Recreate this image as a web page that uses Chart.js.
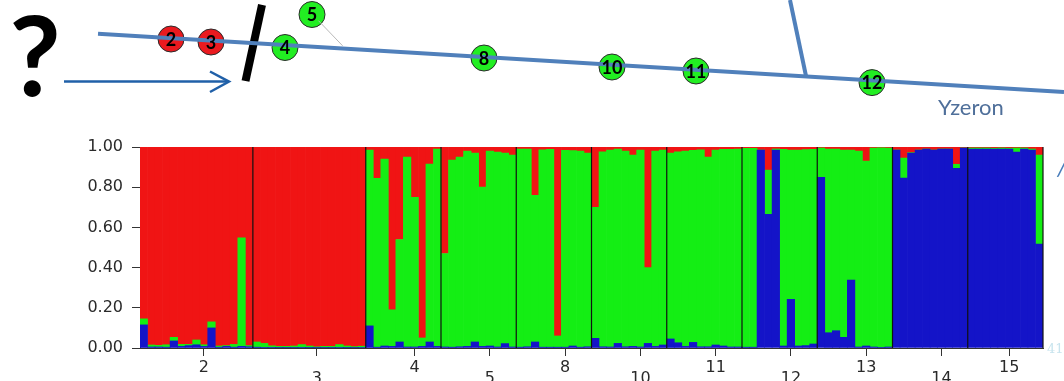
<!DOCTYPE html>
<html>
<head>
<meta charset="utf-8">
<script src="https://cdn.jsdelivr.net/npm/chart.js@4.4.1/dist/chart.umd.min.js"></script>
<style>
  html, body { margin: 0; padding: 0; background: #fff; }
  #wrap { position: relative; width: 1064px; height: 381px; overflow: hidden; }
  #wrap canvas { position: absolute; left: 0; top: 0; }
</style>
</head>
<body>
<div id="wrap">
  <canvas id="bars" width="1064" height="381"></canvas>
  <canvas id="map" width="1064" height="381"></canvas>
</div>
<script>
// populations (bar chart groups), individuals per pop, tick position inside each pop
const popLabels = ['2', '3', '4', '5', '8', '10', '11', '12', '13', '14', '15'];
const popSizes  = [15, 15, 10, 10, 10, 10, 10, 10, 10, 10, 10];
const popTickAt = [8, 8, 6, 6, 6, 6, 6, 6, 6, 6, 5];
const yTicks = [0, 0.2, 0.4, 0.6, 0.8, 1.0];

// membership per individual (cluster blue / green / red)
const blueQ = [
  .115, .005, .005, .004, .035, .008, .012, .016, .008, .10, .004, .008, .004, .008, .006,   // 2
  .004, .003, .003, .002, .002, .002, .003, .002, .002, .002, .002, .003, .002, .002, .003,  // 3
  .11, .004, .01, .008, .03, .005, .005, .008, .03, .008,    // 4
  .005, .004, .006, .008, .03, .008, .01, .005, .022, .005,  // 5
  .004, .006, .03, .004, .004, .004, .004, .01, .004, .006,  // 8
  .048, .006, .005, .023, .006, .008, .005, .023, .008, .015,// 10
  .045, .026, .008, .028, .006, .006, .015, .01, .005, .005, // 11
  .004, .004, .985, .665, .985, .01, .242, .01, .012, .02,   // 12
  .849, .076, .086, .053, .338, .005, .01, .005, .003, .005, // 13
  .985, .845, .97, .985, .99, .985, .99, .99, .894, .995,    // 14
  .99, .99, .99, .99, .99, .99, .975, .99, .985, .517        // 15
];
const greenQ = [
  .03, .01, .008, .012, .018, .01, .006, .024, .008, .03, .006, .004, .014, .54, .006,
  .026, .02, .008, .006, .006, .008, .014, .008, .004, .006, .006, .014, .008, .005, .006,
  .875, .84, .93, .182, .51, .945, .745, .042, .885, .982,
  .465, .931, .944, .972, .94, .792, .97, .97, .948, .955,
  .986, .984, .73, .982, .984, .056, .98, .972, .976, .964,
  .652, .97, .98, .967, .974, .952, .98, .377, .972, .97,
  .925, .95, .972, .955, .98, .944, .97, .978, .983, .985,
  .99, .99, 0, .22, .005, .978, .743, .975, .975, .968,
  .146, .914, .904, .932, .647, .975, .92, .99, .993, .99,
  0, .10, .002, 0, 0, 0, 0, 0, .02, 0,
  .005, .005, .005, .004, .005, .004, .02, .005, .005, .443
];
const redQ = [
  .855, .985, .987, .984, .947, .982, .982, .96, .984, .87, .99, .988, .982, .452, .988,
  .97, .977, .989, .992, .992, .99, .983, .99, .994, .992, .992, .983, .99, .993, .991,
  .015, .156, .06, .81, .46, .05, .25, .95, .085, .01,
  .53, .065, .05, .02, .03, .2, .02, .025, .03, .04,
  .01, .01, .24, .014, .012, .94, .016, .018, .02, .03,
  .30, .024, .015, .01, .02, .04, .015, .60, .02, .015,
  .03, .024, .02, .017, .014, .05, .015, .012, .012, .01,
  .006, .006, .015, .115, .01, .012, .015, .015, .013, .012,
  .005, .01, .01, .015, .015, .02, .07, .005, .004, .005,
  .015, .055, .028, .015, .01, .015, .01, .01, .086, .005,
  .005, .005, .005, .006, .005, .006, .005, .005, .01, .04
];

// map schematic above the plot (site positions along the river)
const siteNames = ['2', '3', '4', '5', '8', '10', '11', '12'];
const siteX = [171, 211, 285, 312, 484, 612, 696, 872];
const siteY = [39, 42, 47.5, 14.5, 58, 67, 71, 82.6];
const siteCluster = ['red', 'red', 'green', 'green', 'green', 'green', 'green', 'green'];
const riverX = [98, 1064], riverY = [33.7, 92];
const tribX = [790, 806], tribY = [0, 76];
const linkX = [318.5, 342.6], linkY = [20.7, 45.8];
const arrowX = [64, 228], arrowY = [81.6, 81.6];
const headX = [210, 229, 210], headY = [71.5, 81.6, 92];
const barrierX = [262, 245.5], barrierY = [4.8, 81];
const noteText = ['?', 'Yzeron', '/', '41'];
const noteX = [35, 938, 1057, 1047];
const noteY = [96, 114.5, 176, 353];

const COLORS = { blue: '#1414c8', green: '#14ee14', red: '#f01414' };

// build categories
const indLabels = [];
const tickPos = [];
const bounds = [];
let start = 0;
popSizes.forEach((n, p) => {
  for (let i = 0; i < n; i++) indLabels.push(popLabels[p] + '_' + (i + 1));
  tickPos.push(start + popTickAt[p]);
  start += n;
  bounds.push(start);
});

const popLines = {
  id: 'popLines',
  afterDatasetsDraw(chart) {
    const { ctx, chartArea } = chart;
    const x = chart.scales.x;
    ctx.save();
    ctx.strokeStyle = '#111';
    ctx.lineWidth = 1.2;
    bounds.forEach(b => {
      const px = x.getPixelForValue(b - 0.5);
      ctx.beginPath();
      ctx.moveTo(px, chartArea.top);
      ctx.lineTo(px, chartArea.bottom);
      ctx.stroke();
    });
    ctx.restore();
  }
};

const tickFont = { family: "'DejaVu Sans', sans-serif", size: 16, lineHeight: 0.66 };

new Chart(document.getElementById('bars'), {
  type: 'bar',
  data: {
    labels: indLabels,
    datasets: [
      { label: 'blue', data: blueQ, backgroundColor: COLORS.blue },
      { label: 'green', data: greenQ, backgroundColor: COLORS.green },
      { label: 'red', data: redQ, backgroundColor: COLORS.red }
    ]
  },
  options: {
    responsive: false,
    animation: false,
    layout: { padding: { top: 147, right: 21, left: 0, bottom: 0 } },
    datasets: { bar: { barPercentage: 1, categoryPercentage: 1, borderWidth: 0 } },
    plugins: { legend: { display: false }, tooltip: { enabled: false } },
    scales: {
      x: {
        stacked: true,
        grid: { display: true, drawOnChartArea: false, offset: false, tickLength: 8, color: '#333' },
        border: { color: '#333', width: 1 },
        afterBuildTicks: axis => { axis.ticks = axis.ticks.filter(t => tickPos.includes(t.value)); },
        afterFit: axis => { axis.height = 33; },
        ticks: {
          autoSkip: false, maxRotation: 0, padding: 7, color: '#2a2a2a', font: tickFont,
          callback: v => {
            const p = tickPos.indexOf(v);
            return p % 2 ? ['', popLabels[p]] : popLabels[p];
          }
        }
      },
      y: {
        stacked: true, min: 0, max: 1,
        afterBuildTicks: axis => { axis.ticks = yTicks.map(v => ({ value: v })); },
        afterFit: axis => { axis.width = 140; },
        grid: { display: true, drawOnChartArea: false, tickLength: 8, color: '#333' },
        border: { color: '#333', width: 1 },
        ticks: {
          padding: 9, color: '#2a2a2a', font: { family: "'DejaVu Sans', sans-serif", size: 16 },
          callback: v => v.toFixed(2)
        }
      }
    }
  },
  plugins: [popLines]
});

// ---- map schematic ----
const pts = (xs, ys) => xs.map((x, i) => ({ x, y: ys[i] }));
const line = (xs, ys, color, width) => ({
  data: pts(xs, ys), showLine: true, borderColor: color, borderWidth: width,
  pointRadius: 0, fill: false, borderCapStyle: 'butt'
});

const mapLabels = {
  id: 'mapLabels',
  afterDatasetsDraw(chart) {
    const { ctx } = chart;
    const sx = chart.scales.x, sy = chart.scales.y;
    const meta = chart.getDatasetMeta(chart.data.datasets.length - 1);
    ctx.save();
    ctx.fillStyle = '#000';
    ctx.textAlign = 'center';
    ctx.textBaseline = 'middle';
    ctx.font = "bold 18px Lato, 'Open Sans', sans-serif";
    meta.data.forEach((pt, i) => ctx.fillText(siteNames[i], pt.x, pt.y + 1));

    const styles = [
      { font: "bold 112px Lato, sans-serif", color: '#000', align: 'center' },
      { font: "22px Lato, sans-serif", color: '#4f6f9a', align: 'left' },
      { font: "italic 24px Lato, sans-serif", color: '#4a7ebb', align: 'left' },
      { font: "13px 'DejaVu Serif', serif", color: '#c8e4ee', align: 'left' }
    ];
    ctx.textBaseline = 'alphabetic';
    noteText.forEach((t, i) => {
      ctx.font = styles[i].font;
      ctx.fillStyle = styles[i].color;
      ctx.textAlign = styles[i].align;
      ctx.fillText(t, sx.getPixelForValue(noteX[i]), sy.getPixelForValue(noteY[i]));
    });
    ctx.restore();
  }
};

new Chart(document.getElementById('map'), {
  type: 'scatter',
  data: {
    datasets: [
      line(riverX, riverY, '#5080bb', 4),
      line(tribX, tribY, '#5080bb', 4),
      line(linkX, linkY, '#b8b8b8', 1),
      line(arrowX, arrowY, '#2060a8', 2.5),
      line(headX, headY, '#2060a8', 2.5),
      line(barrierX, barrierY, '#000', 8),
      {
        data: pts(siteX, siteY), showLine: false, pointRadius: 13,
        pointBackgroundColor: siteCluster.map(c => c === 'red' ? '#ea1a1f' : '#22ee22'),
        pointBorderColor: '#2a2a2a', pointBorderWidth: 1
      }
    ]
  },
  options: {
    responsive: false,
    animation: false,
    layout: { padding: 0, autoPadding: false },
    plugins: { legend: { display: false }, tooltip: { enabled: false } },
    scales: {
      x: { type: 'linear', min: 0, max: 1064, display: false },
      y: { type: 'linear', min: 0, max: 381, reverse: true, display: false }
    }
  },
  plugins: [mapLabels]
});
</script>
</body>
</html>
